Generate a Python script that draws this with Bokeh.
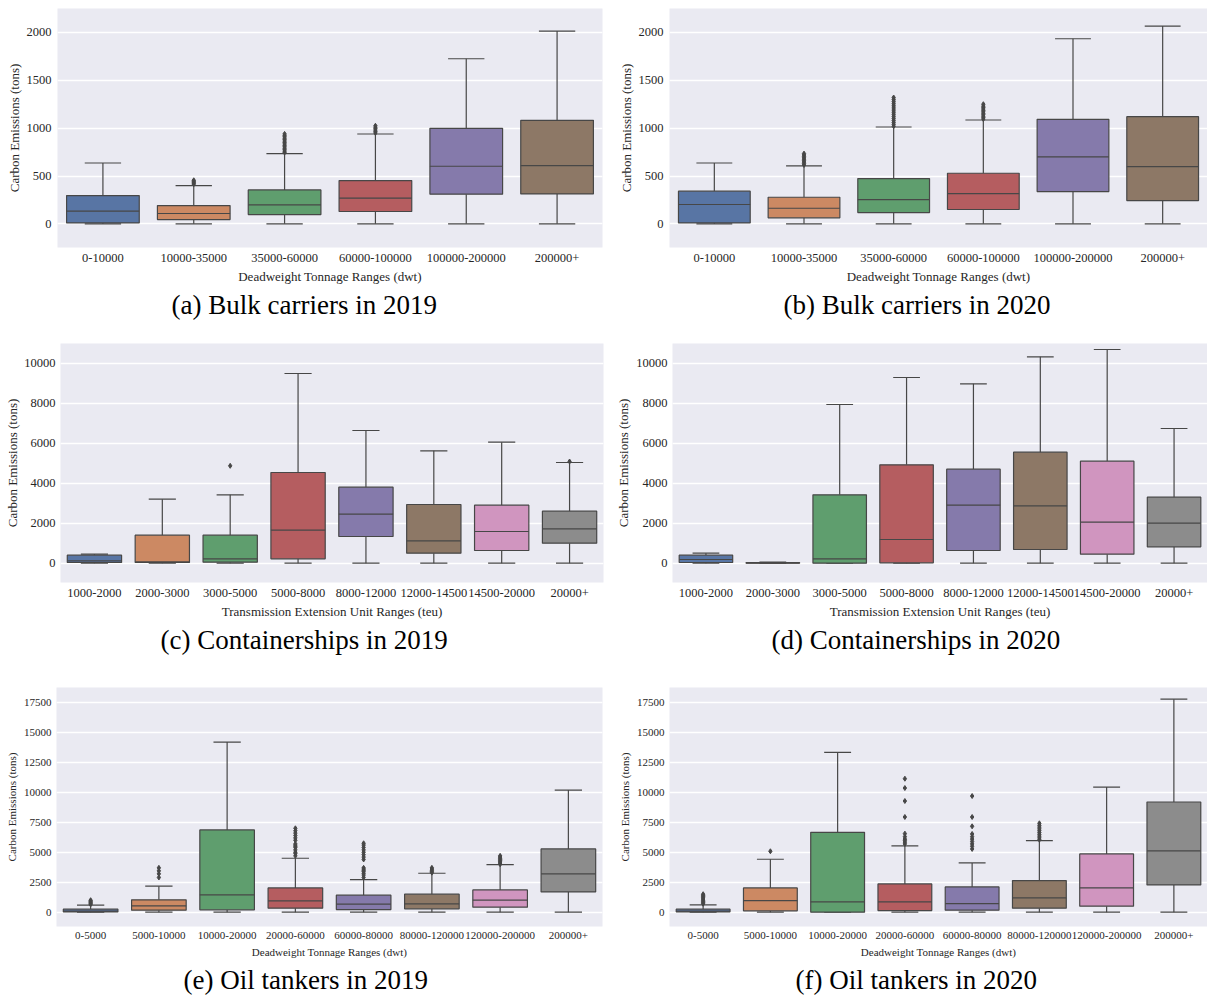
from bokeh.plotting import figure
from bokeh.models import ColumnDataSource, FixedTicker, Title, FactorRange, Range1d
from bokeh.layouts import column, row
from bokeh.transform import dodge
from bokeh.embed import file_html
from bokeh.resources import INLINE

PALETTE = ["#5875a4", "#cc8963", "#5f9e6e", "#b55d60", "#857aab", "#8d7866", "#d095bf", "#8c8c8c"]
GRAY = "#474747"
BG = "#EAEAF2"
SERIF = "Liberation Serif"

# ---------------- (a) Bulk carriers 2019 ----------------
cats_bulk = ["0-10000", "10000-35000", "35000-60000", "60000-100000", "100000-200000", "200000+"]
a_lo = [0, 0, 0, 0, 0, 0]
a_q1 = [10, 45, 97, 129, 310, 313]
a_med = [132, 108, 198, 268, 602, 609]
a_q3 = [296, 191, 355, 452, 998, 1082]
a_hi = [636, 400, 734, 939, 1725, 2014]
a_out = [[], [415, 425, 435, 445, 455],
         [745, 760, 775, 790, 805, 820, 835, 850, 865, 880, 895, 910, 925, 940],
         [950, 965, 980, 995, 1010, 1025], [], []]

# ---------------- (b) Bulk carriers 2020 ----------------
b_lo = [0, 0, 0, 0, 0, 0]
b_q1 = [10, 63, 118, 150, 337, 243]
b_med = [202, 163, 254, 316, 699, 598]
b_q3 = [341, 278, 473, 529, 1092, 1120]
b_hi = [636, 605, 1012, 1085, 1934, 2066]
b_out = [[], [615, 630, 645, 660, 675, 690, 705, 720, 734],
         [1020, 1040, 1060, 1080, 1100, 1120, 1140, 1160, 1180, 1200, 1220, 1240, 1260, 1280, 1300, 1320],
         [1095, 1110, 1125, 1140, 1155, 1170, 1185, 1200, 1215, 1230, 1250], [], []]

# ---------------- (c) Containerships 2019 ----------------
cats_teu = ["1000-2000", "2000-3000", "3000-5000", "5000-8000", "8000-12000", "12000-14500", "14500-20000", "20000+"]
c_lo = [0, 0, 0, 0, 0, 0, 0, 0]
c_q1 = [33, 33, 50, 217, 1333, 500, 633, 1000]
c_med = [117, 67, 217, 1650, 2450, 1117, 1583, 1717]
c_q3 = [400, 1400, 1400, 4533, 3800, 2933, 2900, 2600]
c_hi = [450, 3200, 3417, 9483, 6633, 5617, 6050, 5033]
c_out = [[], [], [4867], [], [], [], [], [5083]]

# ---------------- (d) Containerships 2020 ----------------
d_lo = [0, 0, 0, 0, 0, 0, 0, 0]
d_q1 = [33, 0, 0, 17, 633, 683, 450, 817]
d_med = [183, 17, 217, 1183, 2900, 2867, 2050, 2000]
d_q3 = [400, 33, 3417, 4917, 4700, 5550, 5100, 3300]
d_hi = [500, 50, 7933, 9283, 8967, 10317, 10683, 6733]
d_out = [[], [], [], [], [], [], [], []]

# ---------------- (e) Oil tankers 2019 ----------------
cats_oil = ["0-5000", "5000-10000", "10000-20000", "20000-60000", "60000-80000", "80000-120000", "120000-200000", "200000+"]
e_lo = [0, 0, 0, 0, 0, 0, 0, 0]
e_q1 = [20, 167, 194, 333, 222, 278, 417, 1694]
e_med = [83, 528, 1444, 944, 667, 694, 1000, 3194]
e_q3 = [250, 1028, 6861, 2028, 1417, 1500, 1861, 5278]
e_hi = [583, 2167, 14194, 4500, 2722, 3250, 3972, 10194]
e_out = [[650, 720, 790, 860, 930, 1000],
         [2900, 3200, 3450, 3700],
         [],
         [4700, 4900, 5000, 5200, 5400, 5500, 5600, 5700, 6000, 6200, 6400, 6600, 6800, 7000],
         [2900, 3100, 3250, 3400, 3500, 3600, 3700, 4400, 4600, 4800, 5000, 5200, 5400, 5600, 5750],
         [3300, 3400, 3500, 3600, 3700],
         [4000, 4100, 4200, 4300, 4400, 4500, 4600, 4700],
         []]

# ---------------- (f) Oil tankers 2020 ----------------
f_lo = [0, 0, 0, 0, 0, 0, 0, 0]
f_q1 = [28, 111, 0, 139, 167, 333, 500, 2278]
f_med = [83, 972, 861, 861, 722, 1194, 2028, 5111]
f_q3 = [250, 2028, 6667, 2361, 2111, 2639, 4861, 9194]
f_hi = [611, 4417, 13333, 5528, 4111, 5972, 10444, 17778]
f_out = [[700, 800, 900, 1000, 1100, 1200, 1300, 1400, 1500],
         [5083],
         [],
         [5700, 5850, 6000, 6100, 6300, 6556, 7944, 9278, 10361, 11139],
         [5278, 5500, 5700, 5900, 6100, 6300, 6528, 7167, 7944, 9694],
         [6050, 6200, 6350, 6500, 6650, 6800, 6950, 7100, 7250, 7417],
         [],
         []]

YLABEL = "Carbon Emissions (tons)"
XLABEL_DWT = "Deadweight Tonnage Ranges (dwt)"
XLABEL_TEU = "Transmission Extension Unit Ranges (teu)"


def panel(cats, lo, q1, med, q3, hi, out, yr, yticks, xlabel, caption,
          w, h, bl, br, bt, bb, tick_fs, lab_fs, cap_off,
          y_std=6, ylab_std=2, x_std=6, xlab_std=4, cap_std=2):
    p = figure(x_range=FactorRange(*cats, range_padding=0, factor_padding=0),
               y_range=Range1d(*yr), width=w, height=h,
               output_backend="svg", toolbar_location=None)
    p.min_border_left = bl
    p.min_border_right = br
    p.min_border_top = bt
    p.min_border_bottom = bb
    p.background_fill_color = BG
    p.border_fill_color = "white"
    p.outline_line_color = None
    p.xgrid.grid_line_color = None
    p.ygrid.grid_line_color = "white"
    p.ygrid.grid_line_width = 1.3
    p.yaxis.ticker = FixedTicker(ticks=yticks)
    for ax in (p.xaxis[0], p.yaxis[0]):
        ax.axis_line_color = None
        ax.major_tick_line_color = None
        ax.minor_tick_line_color = None
        ax.major_tick_out = 0
        ax.major_tick_in = 0
        ax.major_label_text_font = SERIF
        ax.major_label_text_font_size = tick_fs
        ax.major_label_text_color = "#262626"
        ax.axis_label_text_font = SERIF
        ax.axis_label_text_font_size = lab_fs
        ax.axis_label_text_font_style = "normal"
        ax.axis_label_text_color = "#262626"
    p.yaxis.axis_label = YLABEL
    p.yaxis.major_label_standoff = y_std
    p.yaxis.axis_label_standoff = ylab_std
    p.xaxis.axis_label = xlabel
    p.xaxis.major_label_standoff = x_std
    p.xaxis.axis_label_standoff = xlab_std

    src = ColumnDataSource(dict(cat=cats, lo=lo, q1=q1, med=med, q3=q3, hi=hi,
                                color=PALETTE[:len(cats)]))
    kw = dict(source=src, line_color=GRAY, line_width=1.2)
    p.segment(x0="cat", y0="lo", x1="cat", y1="q1", **kw)
    p.segment(x0="cat", y0="q3", x1="cat", y1="hi", **kw)
    p.segment(x0=dodge("cat", -0.2, range=p.x_range), y0="hi",
              x1=dodge("cat", 0.2, range=p.x_range), y1="hi", **kw)
    p.segment(x0=dodge("cat", -0.2, range=p.x_range), y0="lo",
              x1=dodge("cat", 0.2, range=p.x_range), y1="lo", **kw)
    p.vbar(x="cat", width=0.8, bottom="q1", top="q3", fill_color="color", **kw)
    p.segment(x0=dodge("cat", -0.4, range=p.x_range), y0="med",
              x1=dodge("cat", 0.4, range=p.x_range), y1="med", **kw)

    ox, oy = [], []
    for c, vals in zip(cats, out):
        for v in vals:
            ox.append(c)
            oy.append(v)
    if ox:
        p.scatter(x=ox, y=oy, marker="diamond", size=5, fill_color=GRAY, line_color=GRAY)

    t = Title(text=caption, align="left", offset=cap_off, standoff=cap_std,
              text_font=SERIF, text_font_size="27px", text_font_style="normal",
              text_color="black")
    p.add_layout(t, "below")
    return p


T1 = [0, 500, 1000, 1500, 2000]
T2 = [0, 2000, 4000, 6000, 8000, 10000]
T3 = [0, 2500, 5000, 7500, 10000, 12500, 15000, 17500]

pa = panel(cats_bulk, a_lo, a_q1, a_med, a_q3, a_hi, a_out, (-247, 2250), T1,
           XLABEL_DWT, "(a) Bulk carriers in 2019", 604, 330, 57, 2, 8, 83, "12.5px", "13px", 114)
pb = panel(cats_bulk, b_lo, b_q1, b_med, b_q3, b_hi, b_out, (-247, 2250), T1,
           XLABEL_DWT, "(b) Bulk carriers in 2020", 603, 330, 65, 0, 8, 83, "12.5px", "13px", 114)
pc = panel(cats_teu, c_lo, c_q1, c_med, c_q3, c_hi, c_out, (-967, 10983), T2,
           XLABEL_TEU, "(c) Containerships in 2019", 604, 338, 60, 1, 13, 86, "12.5px", "13px", 100,
           y_std=5, ylab_std=1)
pd_ = panel(cats_teu, d_lo, d_q1, d_med, d_q3, d_hi, d_out, (-967, 10983), T2,
            XLABEL_TEU, "(d) Containerships in 2020", 603, 338, 68, 0, 13, 86, "12.5px", "13px", 99,
            y_std=5, ylab_std=2)
pe = panel(cats_oil, e_lo, e_q1, e_med, e_q3, e_hi, e_out, (-1194, 18750), T3,
           XLABEL_DWT, "(e) Oil tankers in 2019", 604, 328, 56, 2, 19, 70, "11px", "11px", 127,
           y_std=5, ylab_std=3, x_std=5, xlab_std=4, cap_std=4)
pf = panel(cats_oil, f_lo, f_q1, f_med, f_q3, f_hi, f_out, (-1194, 18750), T3,
           XLABEL_DWT, "(f) Oil tankers in 2020", 603, 328, 65, 0, 19, 70, "11px", "11px", 126,
           y_std=5, ylab_std=3, x_std=5, xlab_std=4, cap_std=4)

layout = column(row(pa, pb), row(pc, pd_), row(pe, pf))
open("out.html", "w").write(file_html(layout, INLINE))
